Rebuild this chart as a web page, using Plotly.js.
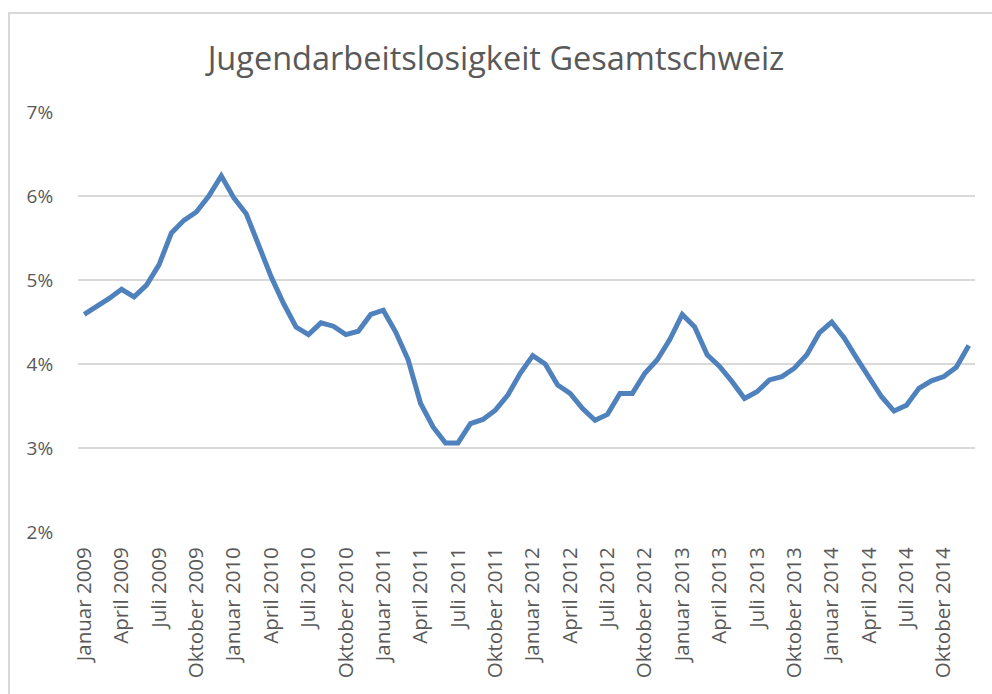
<!DOCTYPE html>
<html>
<head>
<meta charset="utf-8">
<script src="https://cdn.plot.ly/plotly-3.0.1.min.js"></script>
<style>
  html, body { margin: 0; padding: 0; background: #fff; overflow: hidden; }
  #wrap { position: relative; width: 992px; height: 694px; }
  #chart { width: 992px; height: 694px; }
  #frame { position: absolute; left: 8px; top: 12px; width: 1000px; height: 700px;
           border: 2px solid #d9d9d9; pointer-events: none; box-sizing: border-box; }
</style>
</head>
<body>
<div id="wrap">
  <div id="chart"></div>
  <div id="frame"></div>
</div>
<script>
const monthNames = ["Januar","Februar","März","April","Mai","Juni","Juli","August","September","Oktober","November","Dezember"];
const years = [2009, 2010, 2011, 2012, 2013, 2014];

// Youth unemployment rate (%) per month, Jan 2009 – Dec 2014
const rate2009 = [4.59, 4.68, 4.78, 4.89, 4.80, 4.94, 5.18, 5.56, 5.71, 5.81, 6.00, 6.24];
const rate2010 = [5.98, 5.79, 5.40, 5.04, 4.72, 4.44, 4.35, 4.49, 4.45, 4.35, 4.39, 4.59];
const rate2011 = [4.64, 4.38, 4.05, 3.53, 3.25, 3.06, 3.06, 3.29, 3.34, 3.45, 3.63, 3.89];
const rate2012 = [4.10, 4.00, 3.75, 3.65, 3.47, 3.33, 3.40, 3.65, 3.65, 3.89, 4.05, 4.29];
const rate2013 = [4.59, 4.44, 4.11, 3.97, 3.79, 3.59, 3.67, 3.81, 3.85, 3.95, 4.11, 4.37];
const rate2014 = [4.50, 4.31, 4.07, 3.85, 3.61, 3.44, 3.51, 3.71, 3.80, 3.85, 3.96, 4.22];

const categories = [];
years.forEach(y => monthNames.forEach(m => categories.push(m + " " + y)));
const values = [].concat(rate2009, rate2010, rate2011, rate2012, rate2013, rate2014).map(v => v / 100);

const tickLabels = categories.filter((c, i) => i % 3 === 0);

const trace = {
  x: categories,
  y: values,
  type: "scatter",
  mode: "lines",
  line: { color: "#4f81bd", width: 5, shape: "linear" },
  hoverinfo: "x+y"
};

const layout = {
  width: 992,
  height: 694,
  margin: { l: 78, r: 17, t: 112, b: 162 },
  paper_bgcolor: "#ffffff",
  plot_bgcolor: "#ffffff",
  showlegend: false,
  title: {
    text: "Jugendarbeitslosigkeit Gesamtschweiz",
    font: { family: "Open Sans, sans-serif", size: 32.5, color: "#595959" },
    x: 0.5, xanchor: "center",
    y: 1 - 59 / 694, yref: "container", yanchor: "middle"
  },
  xaxis: {
    type: "category",
    range: [-0.5, categories.length - 0.5],
    tickmode: "array",
    tickvals: tickLabels,
    ticktext: tickLabels,
    tickangle: -90,
    tickfont: { family: "Open Sans, sans-serif", size: 20.5, color: "#595959" },
    showgrid: false,
    zeroline: false,
    showline: false,
    ticks: "outside",
    ticklen: 6,
    tickcolor: "rgba(0,0,0,0)"
  },
  yaxis: {
    range: [0.02, 0.07],
    dtick: 0.01,
    tick0: 0.02,
    tickformat: ".0%",
    tickfont: { family: "Open Sans, sans-serif", size: 19, color: "#595959" },
    showgrid: true,
    gridcolor: "#d9d9d9",
    gridwidth: 1.5,
    zeroline: false,
    showline: false,
    ticks: "outside",
    ticklen: 20,
    tickcolor: "rgba(0,0,0,0)"
  }
};

Plotly.newPlot("chart", [trace], layout, { displayModeBar: false, staticPlot: true });
</script>
</body>
</html>
